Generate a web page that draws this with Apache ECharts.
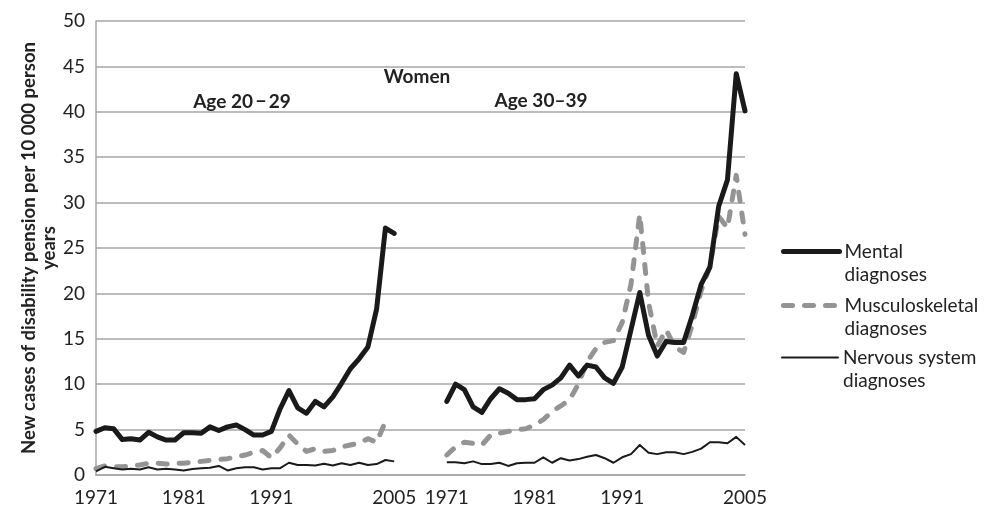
<!DOCTYPE html>
<html>
<head>
<meta charset="utf-8">
<script src="https://cdn.jsdelivr.net/npm/echarts@6/dist/echarts.min.js"></script>
<style>html,body{margin:0;padding:0;background:#fff}#c{width:986px;height:510px}</style>
</head>
<body>
<div id="c"></div>
<script>
// Years for each panel (1971–2005)
const years = [];
for (let y = 1971; y <= 2005; y++) years.push(String(y));
const gapCount = 5;
const tickLabels = ['1971', '1981', '1991', '2005'];

// Age 20–29
const mental2029 = [4.8,5.2,5.1,3.9,4.0,3.85,4.7,4.2,3.85,3.85,4.65,4.65,4.6,5.3,4.9,5.3,5.5,5.0,4.4,4.4,4.8,7.3,9.3,7.4,6.8,8.1,7.5,8.6,10.1,11.7,12.8,14.1,18.3,27.2,26.6];
const musculo2029 = [0.7,1.0,0.9,0.9,1.0,1.1,1.3,1.3,1.2,1.3,1.3,1.4,1.5,1.6,1.7,1.8,2.0,2.2,2.5,2.7,1.9,3.0,4.4,3.4,2.6,2.9,2.6,2.7,3.1,3.3,3.5,4.0,3.6,5.9,null];
const nervous2029 = [0.4,0.9,0.75,0.6,0.7,0.6,0.85,0.6,0.7,0.6,0.5,0.65,0.75,0.8,1.0,0.5,0.75,0.85,0.85,0.6,0.75,0.75,1.35,1.1,1.1,1.05,1.25,1.05,1.3,1.1,1.35,1.1,1.2,1.65,1.5];

// Age 30–39
const mental3039 = [8.1,10.0,9.4,7.5,6.9,8.4,9.5,9.0,8.3,8.3,8.4,9.4,9.9,10.7,12.1,10.9,12.1,11.9,10.7,10.1,11.9,16.0,20.1,15.4,13.1,14.7,14.6,14.6,17.6,21.0,22.9,29.6,32.5,44.2,40.1];
const musculo3039 = [2.2,3.1,3.6,3.5,3.3,4.4,4.6,4.8,5.0,5.1,5.5,6.1,7.0,7.6,8.3,10.0,12.5,13.9,14.6,14.8,16.8,21.0,28.7,19.0,14.2,16.0,14.1,13.5,16.6,20.3,23.0,28.5,27.2,33.0,26.5];
const nervous3039 = [1.4,1.4,1.3,1.5,1.2,1.2,1.35,1.0,1.3,1.35,1.35,1.95,1.35,1.85,1.6,1.75,2.0,2.2,1.85,1.35,1.95,2.3,3.3,2.45,2.3,2.5,2.5,2.3,2.55,2.9,3.6,3.6,3.5,4.2,3.3];

const gapCats = new Array(gapCount).fill('');
const gapVals = new Array(gapCount).fill(null);
const categories = years.concat(gapCats, years);
const join = (a, b) => a.concat(gapVals, b);

const FONT = 'Lato';
const FS = 19;
const chart = echarts.init(document.getElementById('c'), null, {renderer: 'canvas'});

const names = ['Mental\ndiagnoses', 'Musculoskeletal\ndiagnoses', 'Nervous system\ndiagnoses'];
const legendTops = [217, 271, 323];
const legendWidths = [5, 5, 2];

const option = {
  animation: false,
  backgroundColor: '#fff',
  textStyle: {fontFamily: FONT},
  grid: {left: 96, right: 241, top: 21, bottom: 35, containLabel: false},
  xAxis: {
    type: 'category',
    data: categories,
    boundaryGap: false,
    axisLine: {show: true, lineStyle: {color: '#a6a6a6', width: 1.5}},
    axisTick: {show: false},
    splitLine: {show: false},
    axisLabel: {
      interval: (idx, val) => tickLabels.indexOf(val) >= 0,
      color: '#222', fontSize: FS, fontFamily: FONT, margin: 13
    }
  },
  yAxis: {
    type: 'value',
    min: 0, max: 50, interval: 5,
    name: 'New cases of disability pension per 10 000 person\nyears',
    nameLocation: 'middle',
    nameGap: 37,
    nameMoveOverlap: false,
    nameTextStyle: {fontSize: 18.5, fontWeight: 'bold', color: '#222', fontFamily: FONT, lineHeight: 20},
    axisLine: {show: true, lineStyle: {color: '#a6a6a6', width: 1.5}},
    axisTick: {show: false},
    axisLabel: {color: '#222', fontSize: FS, fontFamily: FONT, margin: 11},
    splitLine: {show: true, lineStyle: {color: '#a6a6a6', width: 1.5}}
  },
  legend: names.map((n, i) => ({
    data: [n],
    orient: 'vertical',
    left: 781,
    top: legendTops[i],
    padding: 0,
    itemWidth: 56,
    itemHeight: 14,
    selectedMode: false,
    formatter: name => '\n' + name,
    itemStyle: {opacity: 0},
    lineStyle: {width: legendWidths[i], cap: 'round'},
    textStyle: {fontSize: FS, color: '#222', fontFamily: FONT, lineHeight: 23}
  })),
  series: [
    {
      name: names[0], type: 'line', data: join(mental2029, mental3039),
      symbol: 'none', connectNulls: false,
      lineStyle: {color: '#1a1a1a', width: 5, join: 'round', cap: 'round'},
      itemStyle: {color: '#1a1a1a'}, z: 3
    },
    {
      name: names[1], type: 'line', data: join(musculo2029, musculo3039),
      symbol: 'none', connectNulls: false,
      lineStyle: {color: '#949494', width: 5, type: [9, 12], cap: 'round', join: 'round'},
      itemStyle: {color: '#949494'}, z: 2
    },
    {
      name: names[2], type: 'line', data: join(nervous2029, nervous3039),
      symbol: 'none', connectNulls: false,
      lineStyle: {color: '#1a1a1a', width: 2, join: 'round'},
      itemStyle: {color: '#1a1a1a'}, z: 4
    }
  ],
  graphic: [
    {type: 'text', x: 417, y: 77, style: {text: 'Women', font: 'bold ' + FS + 'px ' + FONT, fill: '#222', align: 'center', verticalAlign: 'middle'}},
    {type: 'text', x: 242, y: 102, style: {text: 'Age 20\u2009\u2212\u200929', font: 'bold ' + FS + 'px ' + FONT, fill: '#222', align: 'center', verticalAlign: 'middle'}},
    {type: 'text', x: 541, y: 101, style: {text: 'Age 30\u201339', font: 'bold ' + FS + 'px ' + FONT, fill: '#222', align: 'center', verticalAlign: 'middle'}}
  ]
};
chart.setOption(option);
</script>
</body>
</html>
